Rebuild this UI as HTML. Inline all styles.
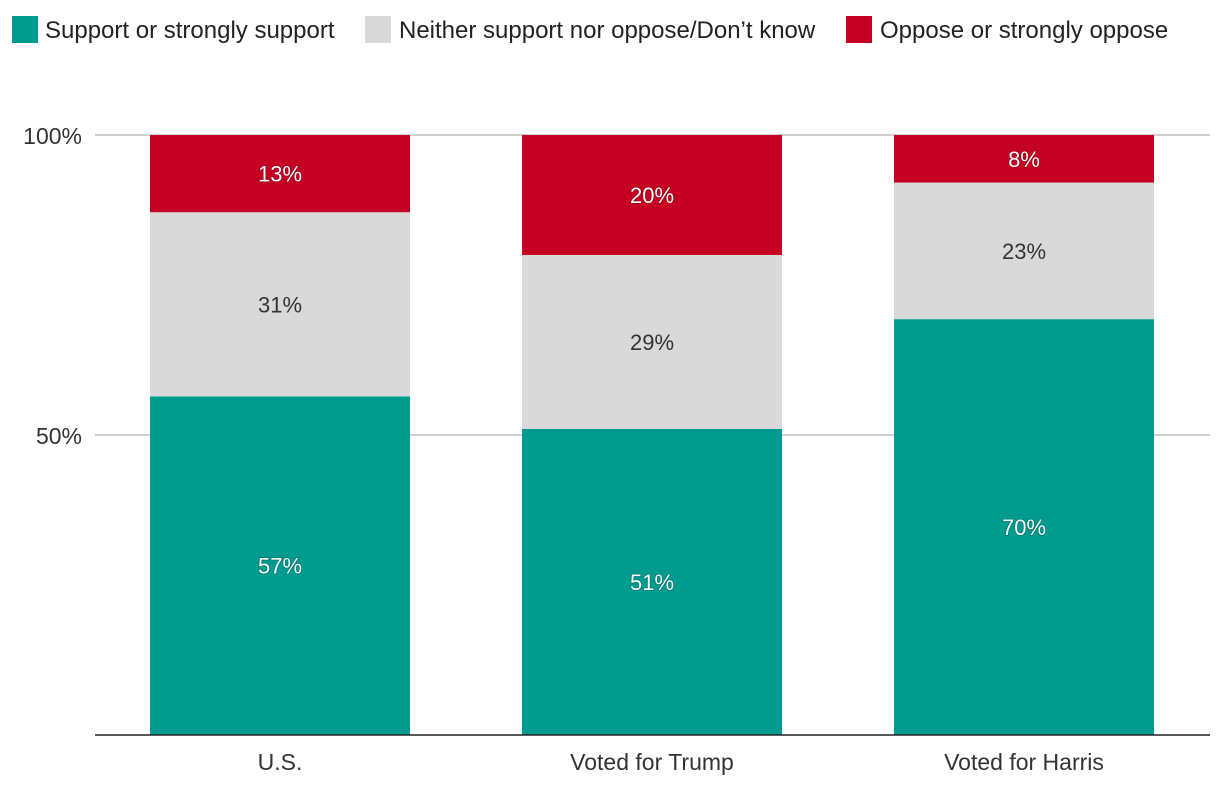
<!DOCTYPE html>
<html><head><meta charset="utf-8">
<style>
body{margin:0;background:#fff;width:1220px;height:790px;overflow:hidden;font-family:"Liberation Sans",sans-serif;}
svg text{font-family:"Liberation Sans",sans-serif;}
</style></head>
<body>
<svg id="chart" width="1220" height="790" xmlns="http://www.w3.org/2000/svg">
  <g>
    <g>
      <rect x="12" y="16" width="26" height="27" fill="#009B8F"/>
      <text x="45" y="38" font-size="24" fill="#222">Support or strongly support</text>
    </g>
    <g>
      <rect x="365" y="16" width="26" height="27" fill="#D9D9D9"/>
      <text x="399" y="38" font-size="24" fill="#222">Neither support nor oppose/Don’t know</text>
    </g>
    <g>
      <rect x="846" y="16" width="26" height="27" fill="#C60022"/>
      <text x="880" y="38" font-size="24" fill="#222">Oppose or strongly oppose</text>
    </g>
  </g>
  <g id="grid"></g>
  <g id="bars"></g>
  <g id="xlabels"></g>
</svg>
<script>
const categories = ["U.S.", "Voted for Trump", "Voted for Harris"];
const supportValues = [57, 51, 70];
const neitherValues = [31, 29, 23];
const opposeValues = [13, 20, 8];
const yTicks = [50, 100];
const yTickLabels = ["50%", "100%"];

const NS = "http://www.w3.org/2000/svg";
const plotL = 95, plotR = 1210, plotTop = 135, plotBot = 735;
const y = v => plotBot - (v / 100) * (plotBot - plotTop);
const step = 372, barW = 260, firstCenter = 280;
const xc = i => firstCenter + i * step;

function mk(tag, attrs, parent) {
  const e = document.createElementNS(NS, tag);
  for (const k in attrs) e.setAttribute(k, attrs[k]);
  parent.appendChild(e);
  return e;
}
const grid = document.getElementById("grid");
yTicks.forEach((t, i) => {
  const l = mk("line", {x1: plotL, x2: plotR, y1: y(t), y2: y(t), stroke: "#b5b5b5", "stroke-width": 1.2}, grid);
  
  
  const tx = mk("text", {x: 82, y: y(t) + 9, "font-size": 23, fill: "#333", "text-anchor": "end"}, grid);
  tx.textContent = yTickLabels[i];
  
  
});
const bars = document.getElementById("bars");
const series = [
  {vals: supportValues, color: "#009B8F", text: "#fff", name: "support"},
  {vals: neitherValues, color: "#D9D9D9", text: "#333", name: "neither"},
  {vals: opposeValues, color: "#C60022", text: "#fff", name: "oppose"}
];
categories.forEach((c, i) => {
  const total = supportValues[i] + neitherValues[i] + opposeValues[i];
  let acc = 0;
  series.forEach(s => {
    const v = s.vals[i] * 100 / total;
    const y0 = y(acc), y1 = y(acc + v);
    const r = mk("rect", {x: xc(i) - barW / 2, y: y1, width: barW, height: y0 - y1, fill: s.color}, bars);
    
    
    const t = mk("text", {x: xc(i), y: (y0 + y1) / 2 + 8, "font-size": 22, fill: s.text, "text-anchor": "middle"}, bars);
    if (s.text === "#fff") t.setAttribute("style", "paint-order:stroke;stroke:rgba(0,0,0,0.25);stroke-width:1.5px");
    t.textContent = s.vals[i] + "%";
    
    
    acc += v;
  });
});
const base = mk("line", {x1: plotL, x2: plotR, y1: plotBot, y2: plotBot, stroke: "#222", "stroke-width": 1.5}, document.getElementById("xlabels"));


categories.forEach((c, i) => {
  const t = mk("text", {x: xc(i), y: 770, "font-size": 23, fill: "#333", "text-anchor": "middle"}, document.getElementById("xlabels"));
  t.textContent = c;
  
  
});
</script>
</body></html>
